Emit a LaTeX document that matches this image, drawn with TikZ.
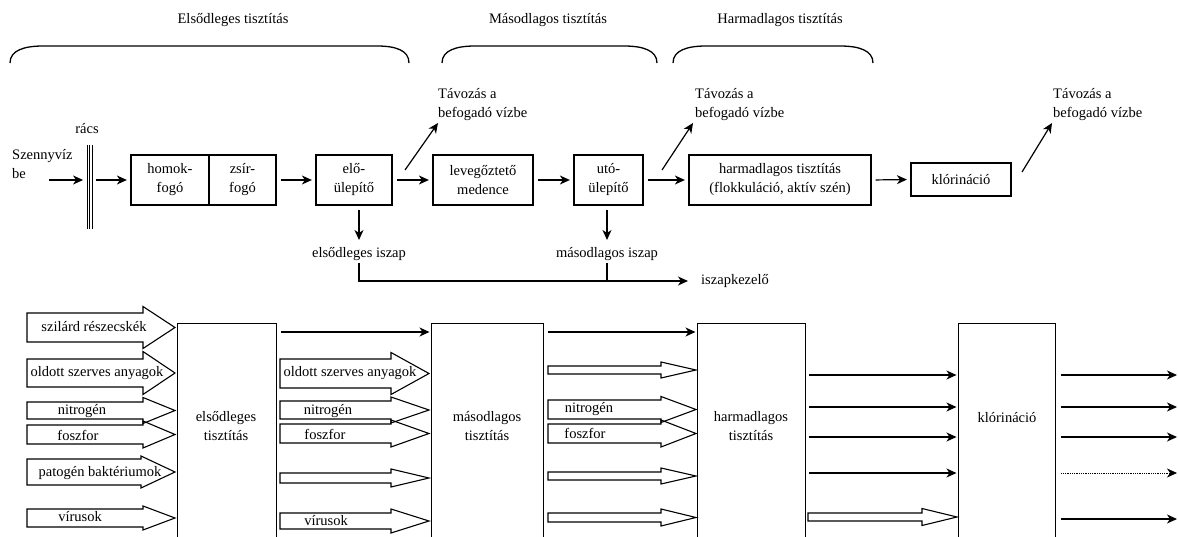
\documentclass[tikz,border=0pt]{standalone}
\usepackage{fontspec}
\setmainfont{Liberation Serif}
\usetikzlibrary{arrows.meta}
% block arrow outline: start x, head start x, tip x, centre y, half body, half head
\newcommand\blockarrow[6]{%
  \draw[hollow] (#1,#4-#5) -- (#2,#4-#5) -- (#2,#4-#6) -- (#3,#4)
    -- (#2,#4+#6) -- (#2,#4+#5) -- (#1,#4+#5) -- cycle;}
\begin{document}
\begin{tikzpicture}[x=1pt,y=-1pt,
  font=\fontsize{14.5}{19}\selectfont,
  box/.style={draw, line width=1.2pt, align=center, inner sep=0pt},
  lbl/.style={inner sep=1pt, align=center},
  tip/.style={-{Stealth[length=10pt,width=9pt,inset=3pt]}},
  arr/.style={line width=1.2pt, tip, shorten <=4pt, shorten >=3.5pt},
  flow/.style={line width=1.2pt, tip, shorten <=4pt, shorten >=1.5pt},
  hollow/.style={line width=1.1pt, line join=miter},
  brace/.style={line width=1.3pt}]
\clip (0,0) rectangle (1178,537);

% stage braces and their titles
\draw[brace] (10,63) .. controls (10,50) and (25,46) .. (43,46) -- (377,46)
  .. controls (395,46) and (409,50) .. (409,63);
\draw[brace] (442,63) .. controls (442,50) and (457,46) .. (475,46) -- (624,46)
  .. controls (642,46) and (657,50) .. (657,63);
\draw[brace] (673,63) .. controls (673,50) and (688,46) .. (706,46) -- (840,46)
  .. controls (858,46) and (873,50) .. (873,63);
\node[lbl] (t1) at (233,20) {Elsődleges tisztítás};
\node[lbl] (t2) at (548,20) {Másodlagos tisztítás};
\node[lbl] (t3) at (780,20) {Harmadlagos tisztítás};

% process line
\node[lbl, align=left, anchor=west] (in) at (11,164) {Szennyvíz\\be};
\coordinate (inA) at (49,180);
\node[lbl] (racsl) at (87,129) {rács};
\node[inner sep=0pt, minimum width=5, minimum height=84] (racs) at (89.8,187) {};
\draw[line width=1pt] (87.3,145) -- (87.3,229) (89.8,145) -- (89.8,229)
  (92.3,145) -- (92.3,229);

\node[box, minimum width=78, minimum height=50] (homok) at (170,180) {homok-\\fogó};
\node[box, minimum width=67, minimum height=50] (zsir) at (242.5,180) {zsír-\\fogó};
\node[box, minimum width=76, minimum height=50] (elo) at (354,180) {elő-\\ülepítő};
\node[box, minimum width=100, minimum height=50] (lev) at (483,180) {levegőztető\\medence};
\node[box, minimum width=69, minimum height=50] (uto) at (608.5,180) {utó-\\ülepítő};
\node[box, minimum width=182, minimum height=50] (harm) at (780,180)
  {harmadlagos tisztítás\\(flokkuláció, aktív szén)};
\node[box, minimum width=100, minimum height=33] (klor) at (961,179.5) {klórináció};

\draw[arr, shorten <=0pt, shorten >=0pt] (inA) -- ([xshift=-4pt]racs.west |- inA);
\draw[arr, shorten <=0pt] ([xshift=3pt]racs.east |- inA) -- (homok.west);
\draw[arr] (zsir.east) -- (elo.west);
\draw[arr] (elo.east) -- (lev.west);
\draw[arr] (lev.east) -- (uto.west);
\draw[arr] (uto.east) -- (harm.west);
\draw[arr] (harm.east) -- (klor.west);

% discharges
\coordinate (d1a) at (405,170); \coordinate (d1b) at (438,123);
\coordinate (d2a) at (662,170); \coordinate (d2b) at (693,123);
\coordinate (d3a) at (1022,172); \coordinate (d3b) at (1052,123);
\draw[arr, shorten <=0pt, shorten >=0pt] (d1a) -- (d1b);
\draw[arr, shorten <=0pt, shorten >=0pt] (d2a) -- (d2b);
\draw[arr, shorten <=0pt, shorten >=0pt] (d3a) -- (d3b);
\node[lbl, align=left, anchor=west] (tav1) at (437,104.5) {Távozás a\\befogadó vízbe};
\node[lbl, align=left, anchor=west] (tav2) at (694,104.5) {Távozás a\\befogadó vízbe};
\node[lbl, align=left, anchor=west] (tav3) at (1052,104.5) {Távozás a\\befogadó vízbe};

% sludge
\coordinate (s1a) at (359,210); \coordinate (s1b) at (359,240);
\coordinate (s2a) at (607,210); \coordinate (s2b) at (607,240);
\draw[arr, shorten <=0pt, shorten >=0pt] (s1a) -- (s1b);
\draw[arr, shorten <=0pt, shorten >=0pt] (s2a) -- (s2b);
\node[lbl] (isz1) at (359,254) {elsődleges iszap};
\node[lbl] (isz2) at (607,254) {másodlagos iszap};
\node[lbl, anchor=west] (iszk) at (700,281) {iszapkezelő};
\coordinate (s1c) at (359,263); \coordinate (s2c) at (607,263);
\draw[arr, shorten <=0pt, shorten >=12pt] (s1c) |- (iszk.west);
\draw[line width=1.2pt] (s2c) -- (s2c |- iszk.west);

% pollutant balance: treatment stages
\node[box, anchor=north west, minimum width=99, minimum height=240] (b1) at (177,323) {};
\node[box, anchor=north west, minimum width=112, minimum height=240] (b2) at (431,323) {};
\node[box, anchor=north west, minimum width=108, minimum height=240] (b3) at (697,323) {};
\node[box, anchor=north west, minimum width=97, minimum height=240] (b4) at (958,323) {};
\node[lbl] (b1t) at (226,426.5) {elsődleges\\tisztítás};
\node[lbl] (b2t) at (487,426.5) {másodlagos\\tisztítás};
\node[lbl] (b3t) at (751,426.5) {harmadlagos\\tisztítás};
\node[lbl] (b4t) at (1007,418) {klórináció};

% loads entering the primary stage
\blockarrow{27}{143}{175}{327.5}{14.5}{21}
\blockarrow{27}{143}{175}{373}{14}{21.5}
\blockarrow{27}{143}{175}{410.5}{8.5}{13}
\blockarrow{27}{143}{175}{434.5}{9.5}{13.5}
\blockarrow{27}{141}{175}{472}{13}{16}
\blockarrow{27}{143}{175}{518}{9}{12}
\node[lbl] (c1a) at (94,327) {szilárd részecskék};
\node[lbl] (c1b) at (97,373) {oldott szerves anyagok};
\node[lbl] (c1c) at (82,411) {nitrogén};
\node[lbl] (c1d) at (78,435) {foszfor};
\node[lbl] (c1e) at (100,473) {patogén baktériumok};
\node[lbl] (c1f) at (80,517) {vírusok};

% loads leaving the primary stage
\coordinate (r0) at (0,332);
\draw[flow] (b1.east |- r0) -- (b2.west |- r0);
\blockarrow{280}{391}{429}{373.5}{14.5}{21}
\blockarrow{280}{391}{429}{410}{9}{13}
\blockarrow{280}{391}{429}{433.5}{9.5}{13.5}
\blockarrow{280}{391}{429}{478}{5}{9}
\blockarrow{280}{391}{429}{521}{8}{12}
\node[lbl] (c2b) at (350,373) {oldott szerves anyagok};
\node[lbl] (c2c) at (328,411) {nitrogén};
\node[lbl] (c2d) at (325,434) {foszfor};
\node[lbl] (c2f) at (326,521) {vírusok};

% loads leaving the secondary stage
\draw[flow] (b2.east |- r0) -- (b3.west |- r0);
\blockarrow{548}{661}{696}{370}{4}{8}
\blockarrow{548}{661}{696}{409.5}{9.5}{13}
\blockarrow{548}{661}{696}{433.5}{9.5}{13.5}
\blockarrow{548}{661}{696}{476}{4}{8}
\blockarrow{548}{661}{696}{517.5}{4.5}{8.5}
\node[lbl] (c3c) at (589,409) {nitrogén};
\node[lbl] (c3d) at (585,433) {foszfor};

% loads leaving the tertiary stage
\coordinate (ra) at (0,375); \coordinate (rb) at (0,407);
\coordinate (rc) at (0,437); \coordinate (rd) at (0,473);
\coordinate (re) at (0,519);
\draw[flow, shorten <=3pt] (b3.east |- ra) -- (b4.west |- ra);
\draw[flow, shorten <=3pt] (b3.east |- rb) -- (b4.west |- rb);
\draw[flow, shorten <=3pt] (b3.east |- rc) -- (b4.west |- rc);
\draw[flow, shorten <=3pt] (b3.east |- rd) -- (b4.west |- rd);
\blockarrow{808}{922}{957}{517}{4}{8.5}

% effluent after chlorination
\coordinate (oa) at (1177,375); \coordinate (ob) at (1177,407);
\coordinate (oc) at (1177,437); \coordinate (od) at (1177,473);
\coordinate (oe) at (1177,519);
\draw[flow, shorten <=5pt, shorten >=0pt] (b4.east |- oa) -- (oa);
\draw[flow, shorten <=5pt, shorten >=0pt] (b4.east |- ob) -- (ob);
\draw[flow, shorten <=5pt, shorten >=0pt] (b4.east |- oc) -- (oc);
\draw[flow, shorten <=5pt, shorten >=0pt, line width=0.8pt, densely dotted] (b4.east |- od) -- (od);
\draw[flow, shorten <=5pt, shorten >=0pt] (b4.east |- oe) -- (oe);
\end{tikzpicture}
\end{document}
